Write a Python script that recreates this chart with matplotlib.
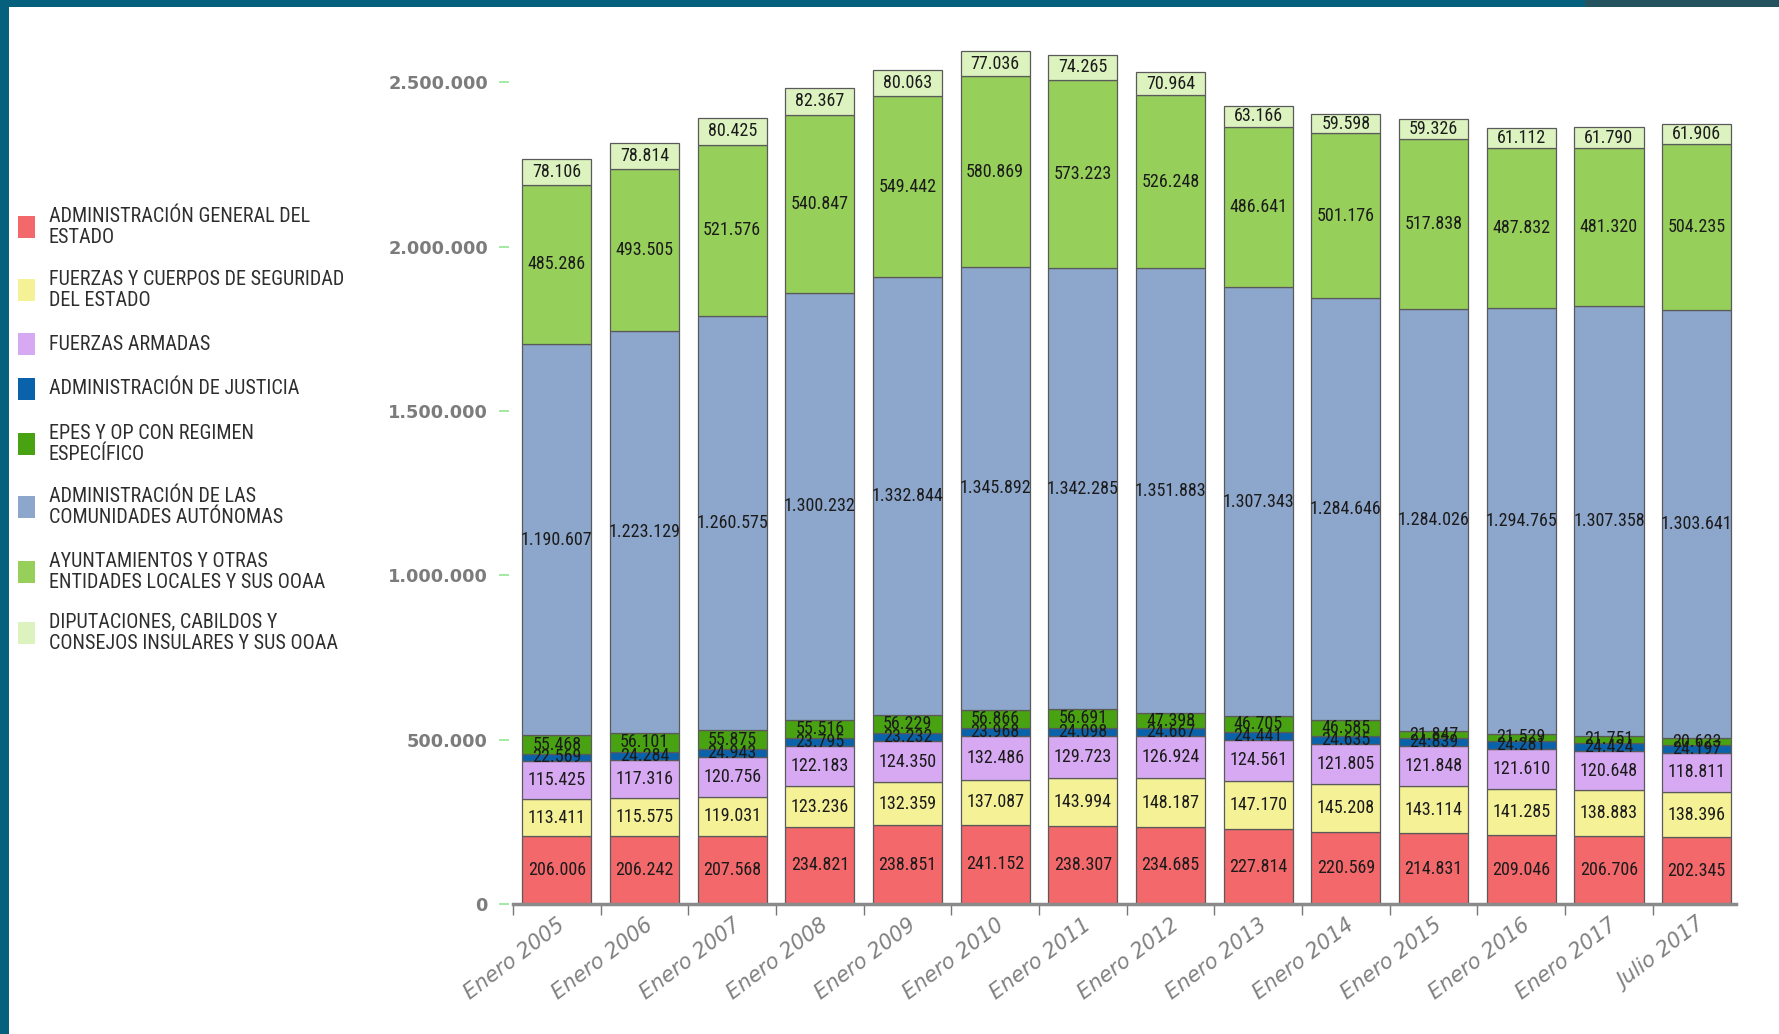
import matplotlib
matplotlib.use("Agg")
import matplotlib.pyplot as plt
from matplotlib.patches import Rectangle
from matplotlib.ticker import FixedLocator
import numpy as np

# ---------------- data ----------------
categories = ["Enero 2005", "Enero 2006", "Enero 2007", "Enero 2008", "Enero 2009",
              "Enero 2010", "Enero 2011", "Enero 2012", "Enero 2013", "Enero 2014",
              "Enero 2015", "Enero 2016", "Enero 2017", "Julio 2017"]

series_names = ["ADMINISTRACIÓN GENERAL DEL\nESTADO",
                "FUERZAS Y CUERPOS DE SEGURIDAD\nDEL ESTADO",
                "FUERZAS ARMADAS",
                "ADMINISTRACIÓN DE JUSTICIA",
                "EPES Y OP CON REGIMEN\nESPECÍFICO",
                "ADMINISTRACIÓN DE LAS\nCOMUNIDADES AUTÓNOMAS",
                "AYUNTAMIENTOS Y OTRAS\nENTIDADES LOCALES Y SUS OOAA",
                "DIPUTACIONES, CABILDOS Y\nCONSEJOS INSULARES Y SUS OOAA"]

age = [206006, 206242, 207568, 234821, 238851, 241152, 238307, 234685, 227814, 220569, 214831, 209046, 206706, 202345]
fcse = [113411, 115575, 119031, 123236, 132359, 137087, 143994, 148187, 147170, 145208, 143114, 141285, 138883, 138396]
ffaa = [115425, 117316, 120756, 122183, 124350, 132486, 129723, 126924, 124561, 121805, 121848, 121610, 120648, 118811]
justicia = [22569, 24284, 24943, 23795, 23232, 23968, 24098, 24667, 24441, 24635, 24839, 24281, 24424, 24197]
epes = [55468, 56101, 55875, 55516, 56229, 56866, 56691, 47398, 46705, 46585, 21847, 21529, 21751, 20623]
ccaa = [1190607, 1223129, 1260575, 1300232, 1332844, 1345892, 1342285, 1351883, 1307343, 1284646, 1284026, 1294765, 1307358, 1303641]
aytos = [485286, 493505, 521576, 540847, 549442, 580869, 573223, 526248, 486641, 501176, 517838, 487832, 481320, 504235]
diput = [78106, 78814, 80425, 82367, 80063, 77036, 74265, 70964, 63166, 59598, 59326, 61112, 61790, 61906]

series = [age, fcse, ffaa, justicia, epes, ccaa, aytos, diput]
colors = ["#F2686B", "#F5F196", "#D6A9F2", "#0A63AA", "#49A211", "#8DA6CC", "#96CF5A", "#DCF3C0"]

yticks = [0, 500000, 1000000, 1500000, 2000000, 2500000]

# ---------------- figure ----------------
W, H = 1779, 1034
fig = plt.figure(figsize=(W / 100, H / 100), dpi=100)
fig.patch.set_facecolor("white")

narrow = ["Roboto Condensed", "Liberation Sans Narrow", "Roboto", "DejaVu Sans"]

def fmt(v):
    return f"{int(v):,}".replace(",", ".")

ax = fig.add_axes([513 / W, (H - 904) / H, (1736 - 513) / W, 871 / H])
# spine placement first (it resets the ticks)
for s in ["top", "right", "left"]:
    ax.spines[s].set_visible(False)
ax.spines["left"].set_position(("outward", 3))
ax.spines["bottom"].set_color("#8a8a8a")
ax.spines["bottom"].set_linewidth(2.5)

x = np.arange(len(categories))
bottom = np.zeros(len(categories))
for vals, col in zip(series, colors):
    vals = np.array(vals, dtype=float)
    ax.bar(x, vals, width=0.79, bottom=bottom, color=col,
           edgecolor="#5a5a5a", linewidth=0.9, zorder=2)
    for xi, b, v in zip(x, bottom, vals):
        ax.text(xi, b + v / 2, fmt(v), ha="center", va="center",
                fontsize=13, family=narrow, stretch="condensed",
                color="#1b1b1b", zorder=3)
    bottom += vals

ax.set_xlim(-0.49, 13.45)
ax.set_ylim(0, 2650000)

ax.yaxis.set_major_locator(FixedLocator(yticks))
ax.set_yticklabels([fmt(v) for v in yticks])
ax.tick_params(axis="y", length=7, width=1.3, color="#9be89b", pad=8,
               labelsize=12.8, labelcolor="#7c7c7c")

ax.set_xticks(x)
ax.set_xticklabels(categories, rotation=37, ha="right", va="top",
                   rotation_mode="anchor", fontsize=15, style="italic",
                   color="#808080")
ax.tick_params(axis="x", which="major", length=0, pad=8)
ax.set_xticks(np.arange(-0.5, 13.5, 1.0), minor=True)
ax.tick_params(axis="x", which="minor", length=8, width=1, color="#777777")

for lbl in ax.get_yticklabels():
    lbl.set_fontweight("bold")
    lbl.set_family("DejaVu Sans")

# ---------------- legend (manual) ----------------
sq_centers = [227, 290, 344, 389, 444, 507, 572, 633]
for name, col, cy in zip(series_names, colors, sq_centers):
    fig.add_artist(Rectangle((18 / W, 1 - (cy + 11) / H), 17 / W, 22 / H,
                             transform=fig.transFigure, facecolor=col,
                             edgecolor="none"))
    fig.text(49 / W, 1 - cy / H, name, ha="left", va="center",
             fontsize=14.5, family=narrow, stretch="condensed",
             color="#2e2e2e", linespacing=1.15)

# ---------------- frame decoration ----------------
fig.add_artist(Rectangle((0, 1 - 7 / H), 1, 7 / H, transform=fig.transFigure,
                         facecolor="#05607D", edgecolor="none"))
fig.add_artist(Rectangle((1585 / W, 1 - 7 / H), 1 - 1585 / W, 7 / H,
                         transform=fig.transFigure, facecolor="#24525E",
                         edgecolor="none"))
fig.add_artist(Rectangle((0, 0), 9 / W, 1, transform=fig.transFigure,
                         facecolor="#05607D", edgecolor="none"))

fig.savefig("out.png", dpi=100)
